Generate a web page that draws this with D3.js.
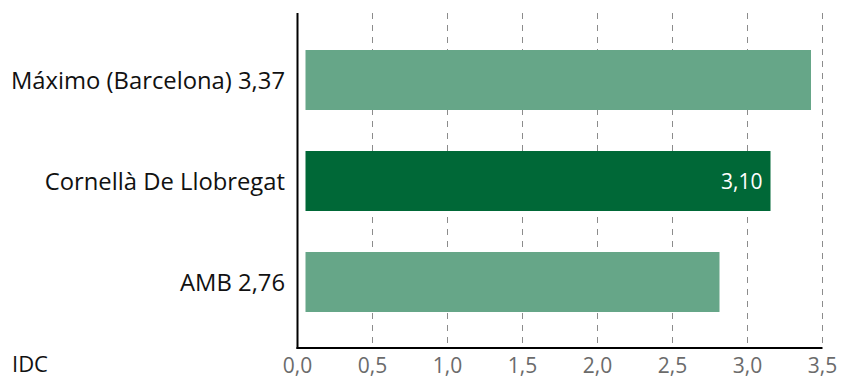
<!DOCTYPE html>
<html>
<head>
<meta charset="utf-8">
<script src="https://cdn.jsdelivr.net/npm/d3@7"></script>
<style>
  body { margin: 0; background: #fff; }
  svg { display: block; font-family: "Open Sans", "Noto Sans", sans-serif; }
</style>
</head>
<body>
<div id="chart"></div>
<script>
const categories = ["Máximo (Barcelona) 3,37", "Cornellà De Llobregat", "AMB 2,76"];
const values = [3.37, 3.10, 2.76];
const highlighted = ["Cornellà De Llobregat"];
const valueLabels = ["", "3,10", ""];
const xTicks = [0, 0.5, 1, 1.5, 2, 2.5, 3, 3.5];
const axisTitle = "IDC";

const width = 845, height = 379;
const x0 = 297.5, x1 = 822.5, yTop = 13, yBase = 348;
const barOffset = 8;

const data = categories.map((c, i) => ({ c, v: values[i], lab: valueLabels[i] }));

const svg = d3.select("#chart").append("svg")
  .attr("width", width).attr("height", height);

const x = d3.scaleLinear().domain([0, 3.5]).range([x0, x1]);
const y = d3.scaleBand().domain(categories).range([29.5, 332.5])
  .paddingInner(0.406).paddingOuter(0.203);

const fmt = d => d3.format(".1f")(d).replace(".", ",");

// gridlines
svg.append("g").selectAll("line")
  .data(xTicks.filter(d => d > 0))
  .join("line")
  .attr("x1", d => x(d)).attr("x2", d => x(d))
  .attr("y1", yTop).attr("y2", yBase)
  .attr("stroke", "#8c8c8c").attr("stroke-width", 1)
  .attr("stroke-dasharray", "6,6");

// bars
svg.append("g").selectAll("rect")
  .data(data)
  .join("rect")
  .attr("x", x(0) + barOffset)
  .attr("y", d => y(d.c))
  .attr("width", d => x(d.v) - x(0))
  .attr("height", y.bandwidth())
  .attr("fill", d => highlighted.includes(d.c) ? "#006837" : "#66a688");

// value label inside bar
svg.append("g").selectAll("text")
  .data(data.filter(d => d.lab))
  .join("text")
  .attr("x", d => x(d.v) + barOffset - 8)
  .attr("y", d => y(d.c) + y.bandwidth() / 2)
  .attr("dy", "0.36em")
  .attr("text-anchor", "end")
  .attr("fill", "#fff")
  .attr("font-size", 21)
  .text(d => d.lab);

// category labels
svg.append("g").selectAll("text")
  .data(data)
  .join("text")
  .attr("x", 285)
  .attr("y", d => y(d.c) + y.bandwidth() / 2)
  .attr("dy", "0.36em")
  .attr("text-anchor", "end")
  .attr("fill", "#111")
  .attr("font-size", 23.8)
  .text(d => d.c);

// axes lines
svg.append("line")
  .attr("x1", x0).attr("x2", x0).attr("y1", yTop).attr("y2", yBase + 1)
  .attr("stroke", "#000").attr("stroke-width", 2);
svg.append("line")
  .attr("x1", x0 - 1).attr("x2", x1).attr("y1", yBase).attr("y2", yBase)
  .attr("stroke", "#000").attr("stroke-width", 2);

// tick labels
svg.append("g").selectAll("text")
  .data(xTicks)
  .join("text")
  .attr("x", d => x(d))
  .attr("y", 373)
  .attr("text-anchor", "middle")
  .attr("fill", "#6b6b6b")
  .attr("font-size", 21)
  .text(fmt);

svg.append("text")
  .attr("x", 12).attr("y", 372)
  .attr("fill", "#111")
  .attr("font-size", 22)
  .text(axisTitle);
</script>
</body>
</html>
